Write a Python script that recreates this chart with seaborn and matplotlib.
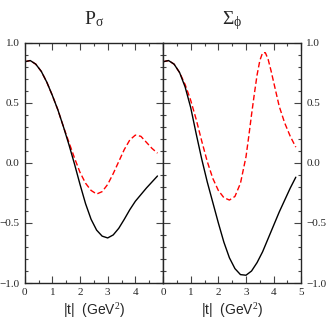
import numpy as np
import pandas as pd
import matplotlib
matplotlib.use("Agg")
import matplotlib.pyplot as plt
import seaborn as sns
from matplotlib.ticker import MultipleLocator

# |t| grid (GeV^2)
t = [0.0, 0.2, 0.4, 0.6, 0.8, 1.0, 1.2, 1.4, 1.6, 1.8, 2.0, 2.2, 2.4,
     2.6, 2.8, 3.0, 3.2, 3.4, 3.6, 3.8, 4.0, 4.2, 4.4, 4.6, 4.8]

# P_sigma
p_solid = [0.84, 0.85, 0.82, 0.76, 0.67, 0.56, 0.44, 0.30, 0.15, -0.01, -0.18, -0.34, -0.47,
           -0.56, -0.61, -0.625, -0.60, -0.545, -0.47, -0.39, -0.32, -0.265, -0.21, -0.16, -0.11]
p_dash = [0.84, 0.85, 0.82, 0.76, 0.67, 0.56, 0.44, 0.30, 0.17, 0.04, -0.08, -0.17, -0.23,
          -0.26, -0.24, -0.18, -0.09, 0.01, 0.11, 0.19, 0.23, 0.22, 0.17, 0.12, 0.08]

# Sigma_phi
s_solid = [0.84, 0.85, 0.82, 0.75, 0.63, 0.46, 0.24, 0.03, -0.16, -0.33, -0.50, -0.66, -0.79,
           -0.88, -0.93, -0.935, -0.90, -0.83, -0.74, -0.63, -0.52, -0.41, -0.31, -0.21, -0.12]
t_sd = [0.0, 0.2, 0.4, 0.6, 0.8, 1.0, 1.2, 1.4, 1.6, 1.8, 2.0, 2.2, 2.4, 2.6, 2.8, 3.0,
        3.1, 3.2, 3.3, 3.4, 3.5, 3.6, 3.7, 3.8, 3.9, 4.0, 4.2, 4.4, 4.6, 4.8]
s_dash = [0.84, 0.85, 0.82, 0.75, 0.65, 0.52, 0.36, 0.18, 0.01, -0.13, -0.23, -0.29, -0.31,
          -0.28, -0.17, 0.05, 0.22, 0.40, 0.57, 0.73, 0.85, 0.915, 0.915, 0.86, 0.77, 0.67,
          0.47, 0.33, 0.22, 0.13]

titles = ["P$_\\sigma$", "$\\Sigma_\\phi$"]
xlabel = "|t|  (GeV$^2$)"

sns.set_style("ticks")
plt.rcParams["font.family"] = ["Liberation Serif", "DejaVu Serif"]
plt.rcParams["mathtext.fontset"] = "custom"
plt.rcParams["mathtext.rm"] = "Liberation Serif"
plt.rcParams["mathtext.it"] = "Liberation Serif"

fig = plt.figure(figsize=(3.27, 3.22), dpi=100)
ax1 = fig.add_axes([0.0755, 0.121, 0.423, 0.747])
ax2 = fig.add_axes([0.4985, 0.121, 0.423, 0.747])

panels = [(ax1, t, p_solid, t, p_dash), (ax2, t, s_solid, t_sd, s_dash)]
for i, (ax, ts, solid, td, dash) in enumerate(panels):
    df_s = pd.DataFrame({"t": ts, "v": solid})
    df_d = pd.DataFrame({"t": td, "v": dash})
    sns.lineplot(data=df_d, x="t", y="v", ax=ax, color="red", linewidth=1.0,
                 linestyle=(0, (4, 2)))
    sns.lineplot(data=df_s, x="t", y="v", ax=ax, color="black", linewidth=1.0)
    ax.set_xlim(0, 5)
    ax.set_ylim(-1, 1)
    ax.xaxis.set_major_locator(MultipleLocator(1))
    ax.xaxis.set_minor_locator(MultipleLocator(0.5))
    ax.yaxis.set_major_locator(MultipleLocator(0.5))
    ax.yaxis.set_minor_locator(MultipleLocator(0.1))
    ax.tick_params(which="both", direction="in", top=True, bottom=True,
                   left=True, right=True, labelsize=8, width=0.8, color="#444444")
    ax.tick_params(which="major", length=5)
    ax.tick_params(which="minor", length=2.5)
    for sp in ax.spines.values():
        sp.set_linewidth(1.0)
        sp.set_visible(True)
    ax.set_xlabel(xlabel, fontsize=10, family="Liberation Sans", labelpad=3)
    ax.set_ylabel("")
    ax.set_title(titles[i], fontsize=14, pad=13)
    ax.set_yticks([-1, -0.5, 0, 0.5, 1])
    ax.set_yticklabels(["\u22121.0", "\u22120.5", "0.0", "0.5", "1.0"])

ax1.set_xticks([0, 1, 2, 3, 4, 5])
ax1.set_xticklabels(["0", "1", "2", "3", "4", ""])
ax2.tick_params(axis="y", labelleft=False, labelright=True)

fig.savefig("out.png", dpi=100)
